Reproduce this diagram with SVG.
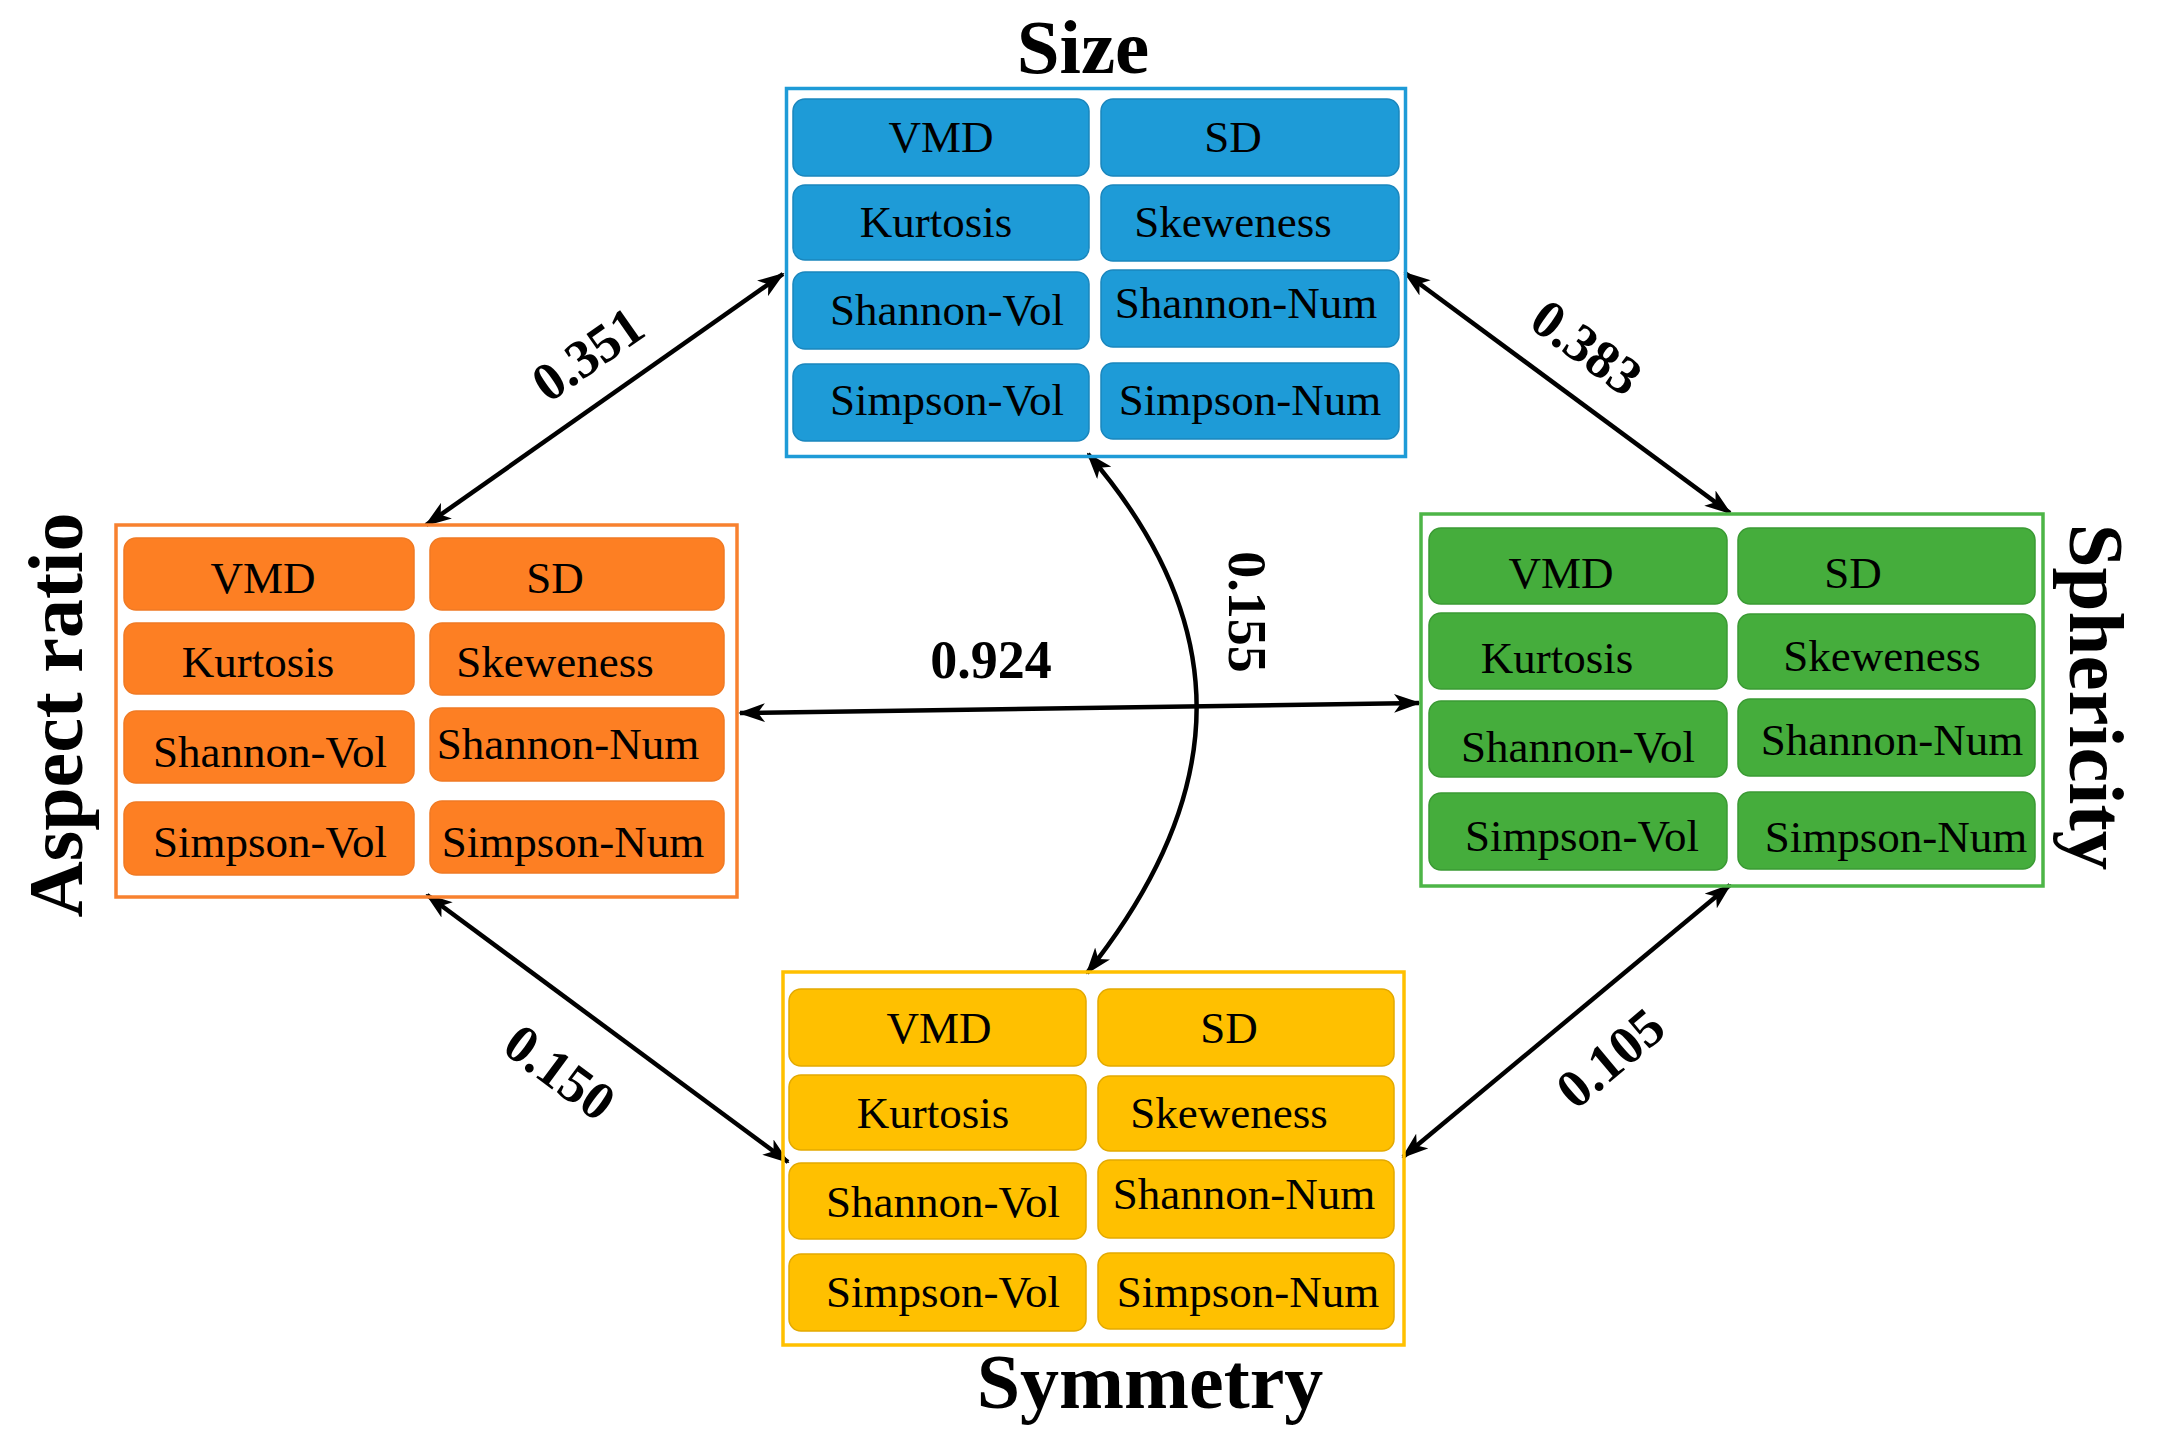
<svg xmlns="http://www.w3.org/2000/svg" width="2158" height="1446" viewBox="0 0 2158 1446">
<style>
.t{font-family:"Liberation Serif","Times New Roman",serif;font-size:45px;fill:#000;text-anchor:middle}
.title{font-family:"Liberation Serif","Times New Roman",serif;font-weight:bold;fill:#000;text-anchor:middle}
.num{font-family:"Liberation Serif","Times New Roman",serif;font-weight:bold;font-size:54px;fill:#000;text-anchor:middle}
.blue .frame{fill:none;stroke:#1E9BD7;stroke-width:3.5}
.blue .cell{fill:#1E9BD7;stroke:#1A86BD;stroke-width:1.5}
.orange .frame{fill:none;stroke:#F8812F;stroke-width:3.5}
.orange .cell{fill:#FD7F23;stroke:#F07A24;stroke-width:1.5}
.green .frame{fill:none;stroke:#4DB547;stroke-width:3.5}
.green .cell{fill:#45AD3C;stroke:#3A9A33;stroke-width:1.5}
.yellow .frame{fill:none;stroke:#FFC000;stroke-width:3.5}
.yellow .cell{fill:#FFC000;stroke:#E3A900;stroke-width:1.5}
.conn{fill:none;stroke:#000;stroke-width:4.5;marker-start:url(#ah);marker-end:url(#ah)}
</style>
<defs>
<marker id="ah" markerUnits="userSpaceOnUse" markerWidth="27" markerHeight="19" viewBox="0 0 27 19" refX="25" refY="9.5" orient="auto-start-reverse">
<path d="M0,0 L27,9.5 L0,19 L7,9.5 z" fill="#000"/>
</marker>
</defs>
<rect width="2158" height="1446" fill="#fff"/>

<g id="connectors">
<path class="conn" d="M783,274 L426,525"/>
<path class="conn" d="M1405,273 L1730,513"/>
<path class="conn" d="M427,895 L788,1162"/>
<path class="conn" d="M1730,885 L1403,1157"/>
<path class="conn" d="M740,713 L1419,703"/>
<path class="conn" d="M1088,454 C1233,622 1233,790 1087,973"/>
<text class="num" transform="translate(598,369) rotate(-35)">0.351</text>
<text class="num" transform="translate(1576,362) rotate(36.4)">0.383</text>
<text class="num" transform="translate(549,1087) rotate(36.5)">0.150</text>
<text class="num" transform="translate(1622,1072) rotate(-40)">0.105</text>
<text class="num" x="991" y="678">0.924</text>
<text class="num" transform="translate(1229,612) rotate(90)">0.155</text>
</g>

<g id="size" class="blue">
<text class="title" x="1083" y="73" font-size="77">Size</text>
<rect class="frame" x="786.5" y="88.5" width="619" height="368"/>
<rect class="cell" x="793" y="99" width="296" height="77" rx="12"/>
<rect class="cell" x="1101" y="99" width="298" height="77" rx="12"/>
<rect class="cell" x="793" y="185" width="296" height="75" rx="12"/>
<rect class="cell" x="1101" y="185" width="298" height="76" rx="12"/>
<rect class="cell" x="793" y="272" width="296" height="77" rx="12"/>
<rect class="cell" x="1101" y="270" width="298" height="77" rx="12"/>
<rect class="cell" x="793" y="364" width="296" height="77" rx="12"/>
<rect class="cell" x="1101" y="363" width="298" height="76" rx="12"/>
<text class="t" x="941" y="152">VMD</text>
<text class="t" x="1233" y="152">SD</text>
<text class="t" x="936" y="237">Kurtosis</text>
<text class="t" x="1233" y="237">Skeweness</text>
<text class="t" x="947" y="325">Shannon-Vol</text>
<text class="t" x="1246" y="318">Shannon-Num</text>
<text class="t" x="947" y="415">Simpson-Vol</text>
<text class="t" x="1250" y="415">Simpson-Num</text>
</g>

<g id="aspect-ratio" class="orange">
<text class="title" transform="translate(82,715) rotate(-90)" font-size="78">Aspect ratio</text>
<rect class="frame" x="116" y="525" width="621" height="372"/>
<rect class="cell" x="124" y="538" width="290" height="72" rx="12"/>
<rect class="cell" x="430" y="538" width="294" height="72" rx="12"/>
<rect class="cell" x="124" y="623" width="290" height="71" rx="12"/>
<rect class="cell" x="430" y="623" width="294" height="72" rx="12"/>
<rect class="cell" x="124" y="711" width="290" height="72" rx="12"/>
<rect class="cell" x="430" y="708" width="294" height="73" rx="12"/>
<rect class="cell" x="124" y="802" width="290" height="73" rx="12"/>
<rect class="cell" x="430" y="801" width="294" height="72" rx="12"/>
<text class="t" x="263" y="593">VMD</text>
<text class="t" x="555" y="593">SD</text>
<text class="t" x="258" y="677">Kurtosis</text>
<text class="t" x="555" y="677">Skeweness</text>
<text class="t" x="270" y="767">Shannon-Vol</text>
<text class="t" x="568" y="759">Shannon-Num</text>
<text class="t" x="270" y="857">Simpson-Vol</text>
<text class="t" x="573" y="857">Simpson-Num</text>
</g>

<g id="sphericity" class="green">
<text class="title" transform="translate(2070,697) rotate(90)" font-size="79">Sphericity</text>
<rect class="frame" x="1421" y="514" width="622" height="372"/>
<rect class="cell" x="1429" y="528" width="298" height="76" rx="12"/>
<rect class="cell" x="1738" y="528" width="297" height="76" rx="12"/>
<rect class="cell" x="1429" y="613" width="298" height="76" rx="12"/>
<rect class="cell" x="1738" y="614" width="297" height="75" rx="12"/>
<rect class="cell" x="1429" y="701" width="298" height="76" rx="12"/>
<rect class="cell" x="1738" y="699" width="297" height="77" rx="12"/>
<rect class="cell" x="1429" y="793" width="298" height="77" rx="12"/>
<rect class="cell" x="1738" y="792" width="297" height="77" rx="12"/>
<text class="t" x="1561" y="588">VMD</text>
<text class="t" x="1853" y="588">SD</text>
<text class="t" x="1557" y="673">Kurtosis</text>
<text class="t" x="1882" y="671">Skeweness</text>
<text class="t" x="1578" y="762">Shannon-Vol</text>
<text class="t" x="1892" y="755">Shannon-Num</text>
<text class="t" x="1582" y="851">Simpson-Vol</text>
<text class="t" x="1896" y="852">Simpson-Num</text>
</g>

<g id="symmetry" class="yellow">
<text class="title" x="1150" y="1408" font-size="78">Symmetry</text>
<rect class="frame" x="783" y="972" width="621" height="373"/>
<rect class="cell" x="789" y="989" width="297" height="77" rx="12"/>
<rect class="cell" x="1098" y="989" width="296" height="77" rx="12"/>
<rect class="cell" x="789" y="1075" width="297" height="75" rx="12"/>
<rect class="cell" x="1098" y="1076" width="296" height="75" rx="12"/>
<rect class="cell" x="789" y="1163" width="297" height="76" rx="12"/>
<rect class="cell" x="1098" y="1160" width="296" height="78" rx="12"/>
<rect class="cell" x="789" y="1254" width="297" height="77" rx="12"/>
<rect class="cell" x="1098" y="1253" width="296" height="76" rx="12"/>
<text class="t" x="939" y="1043">VMD</text>
<text class="t" x="1229" y="1043">SD</text>
<text class="t" x="933" y="1128">Kurtosis</text>
<text class="t" x="1229" y="1128">Skeweness</text>
<text class="t" x="943" y="1217">Shannon-Vol</text>
<text class="t" x="1244" y="1209">Shannon-Num</text>
<text class="t" x="943" y="1307">Simpson-Vol</text>
<text class="t" x="1248" y="1307">Simpson-Num</text>
</g>
</svg>
